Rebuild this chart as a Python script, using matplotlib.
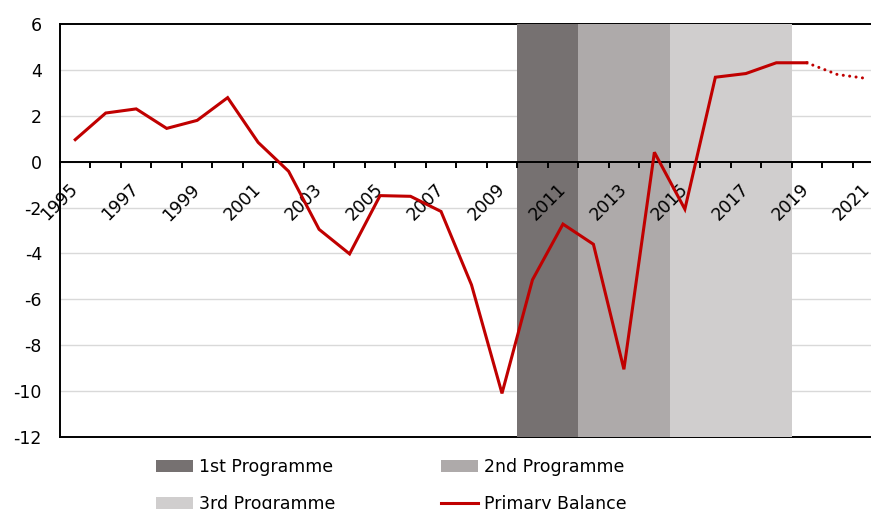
import matplotlib
matplotlib.use("Agg")
import matplotlib.pyplot as plt
from matplotlib.patches import Patch
from matplotlib.lines import Line2D
from matplotlib.ticker import FixedLocator

# Data
years = list(range(1995, 2022))
primary_balance = [0.96, 2.12, 2.30, 1.45, 1.80, 2.79, 0.84, -0.42, -2.95, -4.02,
                   -1.48, -1.51, -2.17, -5.37, -10.1, -5.15, -2.72, -3.60, -9.05,
                   0.41, -2.07, 3.68, 3.84, 4.31, 4.31]
forecast_years = [2019, 2020, 2021]
forecast_balance = [4.31, 3.80, 3.62]

programmes = ["1st Programme", "2nd Programme", "3rd Programme"]
programme_start = [2010, 2012, 2015]
programme_end = [2011, 2014, 2018]
programme_colors = ["#767171", "#AEAAAA", "#D0CECE"]

line_color = "#C00000"
label_years = list(range(1995, 2022, 2))
grid_levels = list(range(-10, 6, 2))

plt.rcParams["font.family"] = ["DejaVu Sans"]
plt.rcParams["axes.unicode_minus"] = False

fig = plt.figure(figsize=(8.71, 5.09), dpi=100)
W, H = 871, 509
# axes: left edge at x=60, the right edge runs past the picture (cropped)
ax = fig.add_axes([60 / W, (H - 437) / H, 823 / W, (437 - 24) / H])

idx = {y: i for i, y in enumerate(years)}

# Gridlines drawn below the shading
for g in grid_levels:
    ax.axhline(g, color="#D9D9D9", lw=1.0, zorder=0.5)

# Programme shading
for name, s, e, c in zip(programmes, programme_start, programme_end, programme_colors):
    ax.axvspan(idx[s] - 0.5, idx[e] + 0.5, color=c, lw=0, zorder=1)

# Primary balance line
ax.plot([idx[y] for y in years[:len(primary_balance)]], primary_balance,
        color=line_color, lw=2.2, zorder=3, solid_joinstyle="miter")
ax.plot([idx[y] for y in forecast_years], forecast_balance,
        color=line_color, lw=2.2, zorder=3, linestyle=(0, (0.01, 2.1)),
        dash_capstyle="round")

ax.set_xlim(-0.5, len(years) - 0.5)
ax.set_ylim(-12, 6)

ax.set_yticks(range(-12, 7, 2))
ax.tick_params(axis="y", length=0, pad=13, labelsize=12.5)

# Borders
for side in ["top", "right"]:
    ax.spines[side].set_visible(False)
ax.spines["left"].set_linewidth(1.4)
ax.spines["left"].set_zorder(0.8)
ax.axhline(-12, color="black", lw=1.4, clip_on=False, zorder=0.8)
ax.axhline(6, color="black", lw=1.4, clip_on=False, zorder=0.8)

# X axis at zero
ax.spines["bottom"].set_position(("data", 0))
ax.spines["bottom"].set_linewidth(1.4)
ax.spines["bottom"].set_zorder(2.5)
ax.xaxis.set_major_locator(FixedLocator([idx[y] for y in label_years]))
ax.set_xticklabels([str(y) for y in label_years], rotation=45, ha="right",
                   va="center", rotation_mode="anchor", fontsize=12.5)
ax.xaxis.set_minor_locator(FixedLocator([i - 0.5 for i in range(len(years) + 1)]))
ax.tick_params(axis="x", which="major", length=0, pad=18)
ax.tick_params(axis="x", which="minor", length=4.3, width=1.4, direction="out")
ax.xaxis.set_zorder(2.6)

# Legend (two columns placed separately)
h1 = [Patch(facecolor=programme_colors[0], lw=0), Patch(facecolor=programme_colors[2], lw=0)]
h2 = [Patch(facecolor=programme_colors[1], lw=0), Line2D([], [], color=line_color, lw=2.2)]
common = dict(frameon=False, fontsize=12.5, borderpad=0, borderaxespad=0,
              handlelength=2.15, handletextpad=0.3, labelspacing=1.1, loc="upper left")
fig.legend(h1, [programmes[0], programmes[2]],
           bbox_to_anchor=(156 / W, (H - 458) / H), **common)
fig.legend(h2, [programmes[1], "Primary Balance"],
           bbox_to_anchor=(441 / W, (H - 458) / H), **common)

fig.savefig("out.png", dpi=100)
